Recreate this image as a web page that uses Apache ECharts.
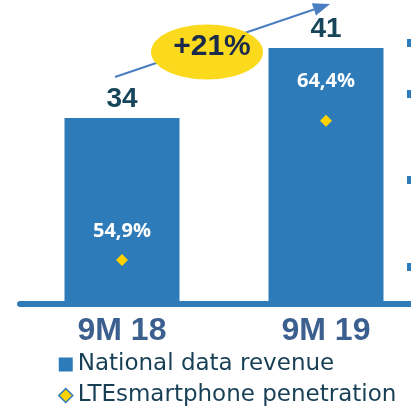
<!DOCTYPE html>
<html>
<head>
<meta charset="utf-8">
<script src="https://cdn.jsdelivr.net/npm/echarts@6/dist/echarts.min.js"></script>
<style>
  html, body { margin: 0; padding: 0; background: #fff; }
  #chart { width: 411px; height: 412px; }
</style>
</head>
<body>
<div id="chart"></div>
<script>
// data
var periods = ['9M 18', '9M 19'];
var dataRevenue = [34, 41];
var penetration = [54.9, 64.4];
var growthText = '+21%';
var rightTicks = [19.1, 27.8, 36.4, 41.5];

var blue = '#2E7BB9';
var yellow = '#FFD200';

var chart = echarts.init(document.getElementById('chart'));

// arrow from the left bar up over the right one
var arrowStart = [115, 77], arrowTip = [330, 4];
var ang = Math.atan2(arrowTip[1] - arrowStart[1], arrowTip[0] - arrowStart[0]);
var headLen = 17, headHalf = 6.5;
var baseX = arrowTip[0] - headLen * Math.cos(ang), baseY = arrowTip[1] - headLen * Math.sin(ang);
var head = [
  arrowTip,
  [baseX + headHalf * Math.sin(ang), baseY - headHalf * Math.cos(ang)],
  [baseX - headHalf * Math.sin(ang), baseY + headHalf * Math.cos(ang)]
];

var option = {
  animation: false,
  backgroundColor: '#fff',
  grid: { left: 20, right: 0, top: 8, bottom: 108 },
  legend: {
    orient: 'vertical',
    left: 58,
    top: 353,
    padding: 0,
    itemWidth: 14,
    itemHeight: 14,
    itemGap: 8,
    textStyle: { fontFamily: 'DejaVu Sans', fontSize: 23, color: '#173F55', lineHeight: 23 },
    data: [
      { name: 'National data revenue', icon: 'rect' },
      { name: 'LTEsmartphone penetration', icon: 'diamond',
        itemStyle: { color: yellow, borderColor: blue, borderWidth: 1.5, opacity: 1 } }
    ]
  },
  // periods sit at 0 and 1 on a value axis so the bars can be spaced wider than the plot allows
  xAxis: {
    type: 'value',
    min: -0.5,
    max: 1.4167,
    splitLine: { show: false },
    axisLine: { show: true, onZero: false, lineStyle: { color: blue, width: 6 } },
    axisTick: { show: false },
    axisLabel: {
      customValues: [0, 1],
      formatter: function (v) { return periods[Math.round(v)]; },
      margin: 11,
      fontFamily: 'Liberation Sans',
      fontWeight: 'bold',
      fontSize: 32,
      color: '#3B5F8E'
    }
  },
  yAxis: [
    {
      type: 'value',
      position: 'right',
      min: 15.4,
      max: 45,
      splitLine: { show: false },
      axisLine: { show: false, onZero: false },
      axisLabel: { show: false },
      axisTick: {
        show: true,
        inside: true,
        length: 4,
        customValues: rightTicks,
        lineStyle: { color: blue, width: 8 }
      }
    },
    {
      type: 'value',
      show: false,
      min: 51.9,
      max: 72.1,
      axisLine: { onZero: false }
    }
  ],
  series: [
    {
      name: 'National data revenue',
      type: 'bar',
      barWidth: 115,
      data: dataRevenue.map(function (v, i) { return [i, v]; }),
      itemStyle: { color: blue },
      label: {
        show: true,
        position: 'top',
        distance: 5,
        formatter: function (p) { return p.value[1]; },
        fontFamily: 'Liberation Sans',
        fontWeight: 'bold',
        fontSize: 28,
        color: '#17465A'
      },
      z: 2
    },
    {
      name: 'LTEsmartphone penetration',
      type: 'scatter',
      yAxisIndex: 1,
      symbol: 'diamond',
      symbolSize: 12,
      itemStyle: { color: yellow, opacity: 1 },
      data: penetration.map(function (v, i) {
        return { value: [i, v], label: { distance: i === 0 ? 13 : 24 } };
      }),
      label: {
        show: true,
        position: 'top',
        formatter: function (p) { return p.value[1].toFixed(1).replace('.', ',') + '%'; },
        fontFamily: 'Open Sans',
        fontWeight: 'bold',
        fontSize: 20,
        color: '#fff'
      },
      z: 3
    }
  ],
  graphic: [
    {
      type: 'polyline',
      z: 10,
      shape: { points: [arrowStart, [baseX, baseY]] },
      style: { stroke: '#4A7EC2', lineWidth: 2, fill: null }
    },
    {
      type: 'polygon',
      z: 10,
      shape: { points: head },
      style: { fill: '#4A7EC2' }
    },
    {
      type: 'ellipse',
      z: 11,
      shape: { cx: 207, cy: 52, rx: 56, ry: 27.5 },
      style: { fill: '#FBDA1E' }
    },
    {
      type: 'text',
      z: 12,
      x: 212,
      y: 47,
      style: {
        text: growthText,
        fontFamily: 'Liberation Sans',
        fontWeight: 'bold',
        fontSize: 30,
        fill: '#1A2A4A',
        align: 'center',
        verticalAlign: 'middle'
      }
    }
  ]
};

chart.setOption(option);
</script>
</body>
</html>
